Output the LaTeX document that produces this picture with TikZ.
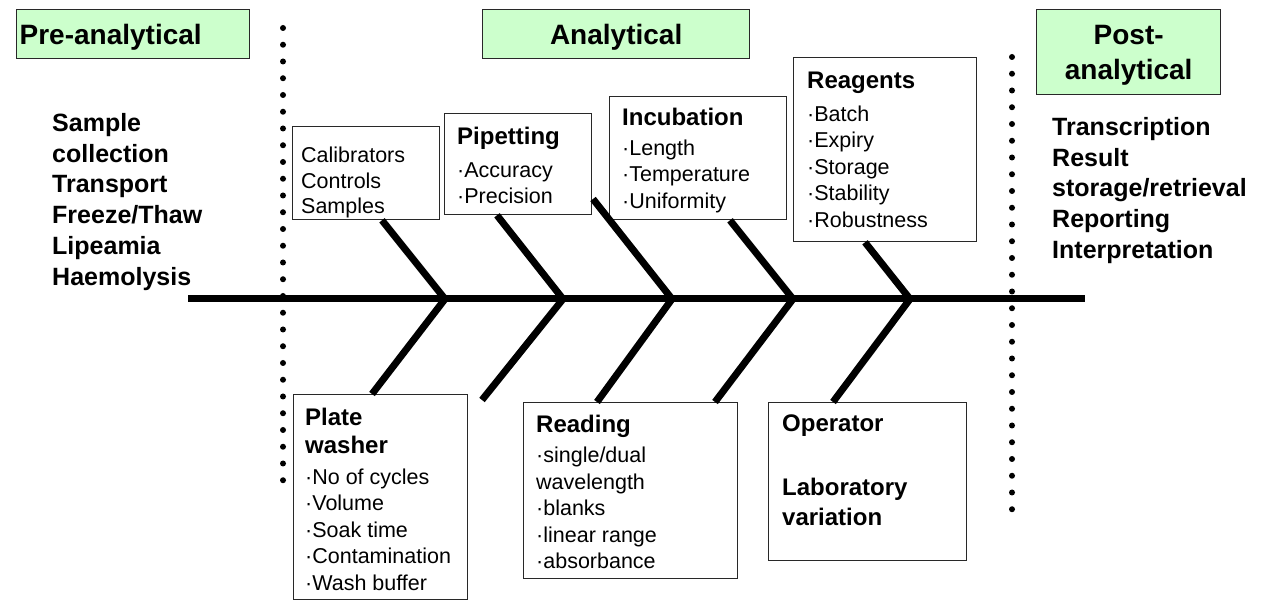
\documentclass[tikz,border=0pt]{standalone}
\usepackage{fontspec}
\setmainfont{Liberation Sans}
\usepackage{xcolor}
\usepackage{tikz}
\usetikzlibrary{positioning, calc}
\definecolor{phasegreen}{RGB}{204, 255, 204}
\definecolor{edgegray}{RGB}{40, 40, 40}

\tikzset{
  phasebox/.style={draw=edgegray, line width=1.3pt, fill=phasegreen, anchor=north west, inner sep=0pt, text depth=0pt, font=\bfseries\fontsize{28}{33}\selectfont},
  causebox/.style={draw=edgegray, line width=1.3pt, anchor=north west, inner sep=0pt},
  causetxt/.style={anchor=north west, inner sep=0pt, align=left, font=\fontsize{21.5}{26.5}\selectfont},
  stagetxt/.style={anchor=north west, inner sep=0pt, align=left, font=\bfseries\fontsize{25}{30.8}\selectfont},
  bone/.style={line width=7pt},
  divider/.style={line width=6pt, line cap=round, dash pattern=on 0pt off 16.75pt}
}
\newcommand{\causetitle}[1]{{\bfseries\fontsize{24}{30}\selectfont #1}}

\begin{document}
\begin{tikzpicture}[x=1pt, y=-1pt]
            \useasboundingbox (0,0) rectangle (1262,601);
            \fill[white] (0,0) rectangle (1262,601);
            % Phase headers
            \node[phasebox, minimum width=233, minimum height=49, text width=227, inner xsep=3pt, align=left] (prehdr) at (16,9) {Pre-analytical};
            \node[phasebox, minimum width=267, minimum height=49] (anahdr) at (482,9) {Analytical};
            \node[phasebox, minimum width=184, minimum height=85, align=center] (posthdr) at (1036,9) {Post-\\[2pt]analytical};
            % Pre- and post-analytical lists
            \node[stagetxt] (prelist) at (52,113) {Sample\\collection\\Transport\\Freeze/Thaw\\Lipeamia\\Haemolysis};
            \node[stagetxt] (postlist) at (1052,117) {Transcription\\Result\\storage/retrieval\\Reporting\\Interpretation};
            % Dividers
            \draw[divider] (283,28) -- (283,497);
            \draw[divider] (1012,57) -- (1012,526);
            % Spine
            \coordinate (tail) at (188,299);
            \coordinate (head) at (1085,299);
            \draw[bone] (tail) -- (head);
            \foreach \n/\x in {1/445, 2/563, 3/672, 4/793, 5/910}
              \coordinate (s\n) at (\x,299);
            % Cause boxes
            \node[causebox, minimum width=147, minimum height=93] (calib) at (292,126) {};
            \node[causebox, minimum width=147, minimum height=101] (pipet) at (444,113) {};
            \node[causebox, minimum width=177, minimum height=123] (incub) at (609,96) {};
            \node[causebox, minimum width=183, minimum height=184] (reag) at (793,57) {};
            \node[causebox, minimum width=174, minimum height=205] (plate) at (293,394) {};
            \node[causebox, minimum width=214, minimum height=176] (read) at (523,402) {};
            \node[causebox, minimum width=198, minimum height=158] (oper) at (768,402) {};
            % Box texts
            \node[causetxt, font=\fontsize{21.5}{25.5}\selectfont] (calibtxt) at (301,147) {Calibrators\\Controls\\Samples};
            \node[causetxt] (pipettxt) at (457,127) {\causetitle{Pipetting}\\[6pt]·Accuracy\\·Precision};
            \node[causetxt] (incubtxt) at (622,108) {\causetitle{Incubation}\\[3pt]·Length\\·Temperature\\·Uniformity};
            \node[causetxt] (reagtxt) at (807,72) {\causetitle{Reagents}\\[6pt]·Batch\\·Expiry\\·Storage\\·Stability\\·Robustness};
            \node[causetxt] (platetxt) at (305,408) {\causetitle{Plate}\\[1.5pt]\causetitle{washer}\\[4pt]·No of cycles\\·Volume\\·Soak time\\·Contamination\\·Wash buffer};
            \node[causetxt] (readtxt) at (536,415) {\causetitle{Reading}\\[3.5pt]·single/dual\\wavelength\\·blanks\\·linear range\\·absorbance};
            \node[stagetxt, font=\bfseries\fontsize{24}{30}\selectfont] (opertxt) at (782,415) {Operator\\[34pt]Laboratory\\variation};
            % Bones
            \coordinate (u3) at (593,199);
            \coordinate (l2) at (482,400);
            \draw[bone] ($(calib.south west)+(90,0)$) -- (s1) -- ($(plate.north west)+(79,0)$);
            \draw[bone] ($(pipet.south west)+(53,0)$) -- (s2) -- (l2);
            \draw[bone] (u3) -- (s3) -- ($(read.north west)+(74,0)$);
            \draw[bone] ($(incub.south west)+(121,0)$) -- (s4) -- ($(read.north west)+(192,0)$);
            \draw[bone] ($(reag.south west)+(72,0)$) -- (s5) -- ($(oper.north west)+(65,0)$);
        \end{tikzpicture}
\end{document}
